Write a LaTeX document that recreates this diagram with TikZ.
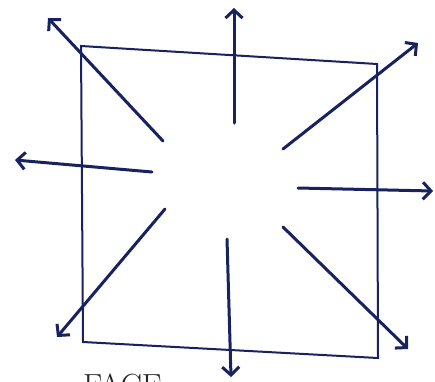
\documentclass[tikz,border=0pt]{standalone}
\usetikzlibrary{arrows.meta}
\definecolor{ink}{RGB}{24,34,96}
\begin{document}
\begin{tikzpicture}[x=1pt,y=-1pt,
  sq/.style={draw=ink,line width=2pt,line join=miter},
  ray/.style={draw=ink,line width=3pt,line cap=round,
    -{Straight Barb[length=8pt,width=17pt,line width=3pt]}}]
\useasboundingbox (0,0) rectangle (435,381);
\clip (0,0) rectangle (435,381);
\fill[white] (0,0) rectangle (435,381);
% square corners
\coordinate (tl) at (81,46);
\coordinate (tr) at (377,64);
\coordinate (br) at (378,358);
\coordinate (bl) at (83,342);
\draw[sq] (tl) -- (tr) -- (br) -- (bl) -- cycle;
% ray tails and heads
\coordinate (t1) at (163,141); \coordinate (h1) at (48,18);
\coordinate (t2) at (152,172); \coordinate (h2) at (15,160);
\coordinate (t3) at (234,123); \coordinate (h3) at (234,8);
\coordinate (t4) at (283,149); \coordinate (h4) at (418,43);
\coordinate (t5) at (298,188); \coordinate (h5) at (433,191);
\coordinate (t6) at (283,227); \coordinate (h6) at (408,349);
\coordinate (t7) at (227,239); \coordinate (h7) at (231,377);
\coordinate (t8) at (165,209); \coordinate (h8) at (57,337);
\foreach \i in {1,...,8}{\draw[ray] (t\i) -- (h\i);}
\node[anchor=base west,inner sep=0pt,text=black!85,font=\fontsize{32}{38}\selectfont] (cap) at (83,396) {FACE};
\end{tikzpicture}
\end{document}
